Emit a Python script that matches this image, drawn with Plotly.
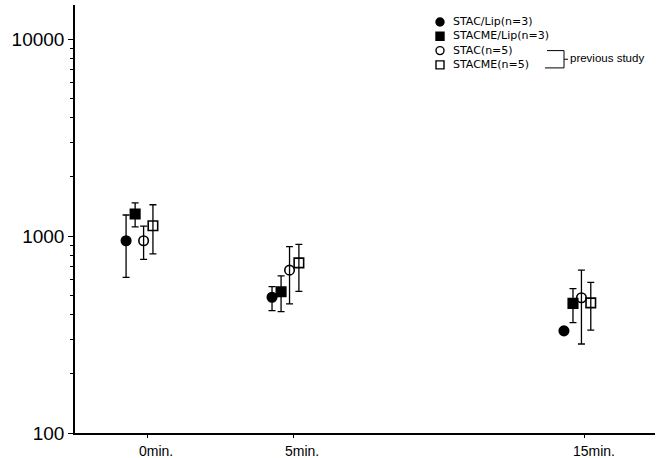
import plotly.graph_objects as go

times = [0, 5, 15]
tick_labels = ["0min.", "5min.", "15min."]

series_names = ["STAC/Lip(n=3)", "STACME/Lip(n=3)", "STAC(n=5)", "STACME(n=5)"]
offsets = [-0.72, -0.41, -0.12, 0.2]

stac_lip = [946, 489, 330]
stac_lip_hi = [1279, 553, 330]
stac_lip_lo = [617, 418, 330]

stacme_lip = [1294, 521, 455]
stacme_lip_hi = [1475, 627, 541]
stacme_lip_lo = [1114, 413, 363]

stac = [946, 671, 486]
stac_hi = [1124, 883, 671]
stac_lo = [762, 452, 283]

stacme = [1127, 731, 458]
stacme_hi = [1442, 907, 582]
stacme_lo = [811, 524, 333]

means = [stac_lip, stacme_lip, stac, stacme]
highs = [stac_lip_hi, stacme_lip_hi, stac_hi, stacme_hi]
lows = [stac_lip_lo, stacme_lip_lo, stac_lo, stacme_lo]
symbols = ["circle", "square", "circle-open", "square-open"]

fig = go.Figure()
for name, off, m, hi, lo, sym in zip(series_names, offsets, means, highs, lows, symbols):
    fig.add_trace(go.Scatter(
        x=[t + off for t in times],
        y=m,
        mode="markers",
        name=name,
        showlegend=False,
        marker=dict(symbol=sym, size=9.5, color="black",
                    line=dict(color="black", width=1.6)),
        error_y=dict(type="data", symmetric=False,
                     array=[h - v for h, v in zip(hi, m)],
                     arrayminus=[v - l for v, l in zip(m, lo)],
                     color="black", thickness=1.3, width=3.5),
    ))

font = "Liberation Sans, Arial, sans-serif"
leg_font = "DejaVu Sans, sans-serif"
W, H = 662, 458
L, R, T, B = 75, 7, 5, 25
pw, ph = W - L - R, H - T - B


def px(x):
    return (x - L) / pw


def py(y):
    return (H - B - y) / ph


fig.update_layout(
    width=W, height=H,
    margin=dict(l=L, r=R, t=T, b=B, autoexpand=False),
    paper_bgcolor="white", plot_bgcolor="white",
    font=dict(family=font, color="black"),
    showlegend=False,
    xaxis=dict(range=[-2.47, 17.4], tickmode="array", tickvals=times,
               ticktext=tick_labels, showgrid=False, zeroline=False,
               showline=True, linecolor="black", linewidth=1.5,
               ticks="outside", ticklen=3, tickcolor="black", automargin=False,
               tickfont=dict(size=14), ticklabelshift=9, ticklabelstandoff=1),
    yaxis=dict(type="log", range=[2, 4.173], tickmode="array",
               tickvals=[100, 1000, 10000], ticktext=["100", "1000", "10000"],
               showgrid=False, zeroline=False, showline=True, linecolor="black",
               linewidth=1.5, ticks="outside", ticklen=5, tickcolor="black",
               automargin=False, tickfont=dict(size=19),
               minor=dict(ticks="outside", ticklen=3, tickcolor="black",
                          dtick="D1", showgrid=False)),
)

# legend drawn as markers + one multi-line label block
line_h = 14.3
top_row = 22
marker_x = 440
for i, sym in enumerate(symbols):
    yrow = top_row + i * line_h
    filled = not sym.endswith("open")
    kind = "circle" if sym.startswith("circle") else "rect"
    fig.add_shape(type=kind, xref="paper", yref="paper",
                  xsizemode="pixel", ysizemode="pixel",
                  xanchor=px(marker_x), yanchor=py(yrow),
                  x0=-4, x1=4, y0=-4, y1=4,
                  fillcolor="black" if filled else "white",
                  line=dict(color="black", width=1.4))
fig.add_annotation(xref="paper", yref="paper", x=px(452),
                   y=py(top_row + 1.5 * line_h), xanchor="left", yanchor="middle",
                   align="left", text="<br>".join(series_names), showarrow=False,
                   borderpad=0, font=dict(size=11, family=leg_font))

# bracket for "previous study"
line = dict(color="black", width=1)
y3 = top_row + 2 * line_h
y4 = top_row + 3 * line_h + 3
fig.add_shape(type="line", xref="paper", yref="paper", x0=px(547), x1=px(564), y0=py(y3), y1=py(y3), line=line)
fig.add_shape(type="line", xref="paper", yref="paper", x0=px(545), x1=px(564), y0=py(y4), y1=py(y4), line=line)
fig.add_shape(type="line", xref="paper", yref="paper", x0=px(564), x1=px(564), y0=py(y3), y1=py(y4), line=line)
fig.add_shape(type="line", xref="paper", yref="paper", x0=px(564), x1=px(568), y0=py((y3 + y4) / 2), y1=py((y3 + y4) / 2), line=line)
fig.add_annotation(xref="paper", yref="paper", x=px(568), y=py((y3 + y4) / 2 - 1),
                   xanchor="left", yanchor="middle", text="previous study",
                   showarrow=False, font=dict(size=11.5, family=font))

fig.write_html("out.html", config={"displayModeBar": False},
               post_script="document.body.style.margin='0px';")
